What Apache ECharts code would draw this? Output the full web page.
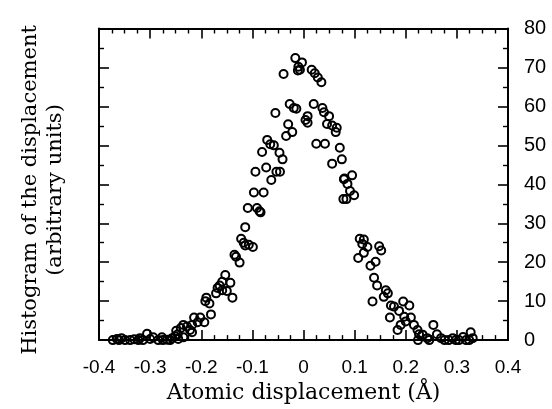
<!DOCTYPE html>
<html>
<head>
<meta charset="utf-8">
<script src="https://cdn.jsdelivr.net/npm/echarts@6/dist/echarts.min.js"></script>
<style>
html,body{margin:0;padding:0;background:#fff;}
#chart{width:552px;height:409px;}
</style>
</head>
<body>
<div id="chart"></div>
<script>
// Atomic displacement (Å)
var dispX = [
  -0.016,-0.003,-0.010,-0.011,-0.007,-0.039,0.016,0.022,0.028,0.035,
  -0.027,-0.019,-0.014,-0.055,0.020,0.037,0.040,0.050,0.008,0.004,0.008,
  -0.030,-0.022,-0.034,0.046,0.056,0.065,0.063,-0.071,-0.065,-0.058,
  -0.081,-0.047,-0.041,0.025,0.042,0.071,-0.073,-0.094,-0.053,-0.046,
  -0.063,0.075,0.056,0.095,0.080,0.086,-0.097,-0.078,
  -0.109,-0.091,-0.086,-0.084,-0.114,-0.122,-0.117,-0.114,-0.107,-0.099,
  -0.135,-0.132,-0.125,-0.153,-0.159,-0.143,-0.164,-0.168,-0.159,-0.150,
  -0.171,-0.139,-0.190,-0.192,-0.184,-0.181,-0.214,-0.202,-0.194,-0.207,
  -0.218,-0.235,-0.228,-0.240,-0.249,-0.246,-0.222,-0.218,-0.235,
  -0.365,-0.356,-0.349,-0.339,-0.323,-0.320,-0.306,-0.294,-0.284,-0.277,
  -0.267,-0.261,-0.257,-0.373,-0.361,-0.331,-0.314,-0.300,-0.275,-0.251,-0.245,
  0.079,0.091,0.099,0.078,0.084,0.110,0.118,0.115,0.125,0.118,0.107,
  0.148,0.152,0.141,0.131,0.138,0.144,0.161,0.165,0.157,0.135,0.171,
  0.177,0.195,0.207,0.187,0.169,0.197,0.210,0.200,0.190,0.184,0.216,
  0.223,0.226,0.224,0.233,0.242,0.246,0.254,
  0.261,0.269,0.276,0.284,0.292,0.298,0.304,0.312,0.318,0.327,0.331,0.324
];
// Histogram of the displacement (arbitrary units)
var histY = [
  72.4,71.3,70.2,69.2,69.4,68.3,69.4,68.5,67.4,66.2,
  60.6,59.6,59.4,58.3,60.6,59.6,58.5,57.5,57.5,56.5,55.8,
  55.4,53.4,52.4,55.5,55.1,54.5,53.4,51.4,50.3,50.0,
  48.3,48.1,46.4,50.4,50.4,49.4,44.3,43.2,43.2,43.2,
  41.1,46.4,45.3,42.3,41.5,40.1,37.9,37.9,
  33.9,33.9,33.1,32.8,29.0,26.0,25.0,24.3,24.5,23.9,
  21.9,21.4,19.9,16.7,15.0,14.7,14.0,13.4,12.8,12.6,
  12.0,10.9,10.9,10.0,9.4,6.6,5.8,5.8,4.6,4.6,
  3.9,3.9,3.5,3.1,2.4,1.5,2.6,2.0,0.7,
  0.3,0.5,0,0,0,0.5,1.6,0.7,0,0.7,
  0.1,0,0.5,0,0,0.2,0,0.3,0,1.0,0.3,
  41.3,38.3,37.2,36.2,36.2,26.0,25.8,24.7,23.9,22.4,21.1,
  24.1,23.0,20.1,19.1,16.0,14.0,12.8,12.0,11.1,9.9,8.9,
  8.6,9.9,8.9,7.5,5.8,6.0,5.8,4.8,3.9,2.6,3.9,
  2.6,1.5,0,1.4,0.5,0,3.9,
  1.5,0.5,0,0,0.5,0,0,0.8,0,2.0,0.5,0
];
var xTicks = ['-0.4','-0.3','-0.2','-0.1','0','0.1','0.2','0.3','0.4'];
var yTicks = ['0','10','20','30','40','50','60','70','80'];

var points = dispX.map(function (x, i) { return [x, histY[i]]; });

var chart = echarts.init(document.getElementById('chart'), null, {renderer: 'canvas'});
var axisLine = {show: true, onZero: false, lineStyle: {color: '#000', width: 2}};
var sansFont = '"Liberation Sans", Arial, sans-serif';
var serifFont = '"DejaVu Serif", serif';

function xAxisCfg(pos, showLabel) {
  return {
    type: 'value', position: pos, min: -0.4, max: 0.4, interval: 0.1,
    axisLine: axisLine,
    axisTick: {show: true, inside: true, length: 10, lineStyle: {color: '#000', width: 1.6}},
    minorTick: {show: true, splitNumber: 4, length: 5, lineStyle: {color: '#000', width: 1.4}},
    splitLine: {show: false}, minorSplitLine: {show: false},
    axisLabel: {
      show: showLabel, color: '#000', fontFamily: sansFont, fontSize: 19, margin: 18,
      formatter: function (v) { return xTicks[Math.round((v + 0.4) * 10)]; }
    }
  };
}
function yAxisCfg(pos, showLabel) {
  return {
    type: 'value', position: pos, min: 0, max: 80, interval: 10,
    axisLine: axisLine,
    axisTick: {show: true, inside: true, length: 10, lineStyle: {color: '#000', width: 1.6}},
    minorTick: {show: true, splitNumber: 2, length: 5, lineStyle: {color: '#000', width: 1.4}},
    splitLine: {show: false}, minorSplitLine: {show: false},
    axisLabel: {
      show: showLabel, color: '#000', fontFamily: sansFont, fontSize: 20, margin: 16,
      formatter: function (v) { return yTicks[Math.round(v / 10)]; }
    }
  };
}

var xBottom = xAxisCfg('bottom', true);
xBottom.name = 'Atomic displacement (\u00C5)';
xBottom.nameLocation = 'middle';
xBottom.nameGap = 39;
xBottom.nameTextStyle = {color: '#000', fontFamily: serifFont, fontSize: 22};

chart.setOption({
  animation: false,
  backgroundColor: '#fff',
  grid: {left: 99, right: 44, top: 28.5, bottom: 67, containLabel: false},
  xAxis: [xBottom, xAxisCfg('top', false)],
  yAxis: [yAxisCfg('right', true), yAxisCfg('left', false)],
  graphic: [{
    type: 'text', x: 43, y: 190, rotation: Math.PI / 2,
    style: {
      text: 'Histogram of the displacement\n(arbitrary units)',
      fill: '#000', font: '21px "DejaVu Serif", serif',
      textAlign: 'center', textVerticalAlign: 'middle', verticalAlign: 'middle',
      lineHeight: 25
    }
  }],
  series: [{
    type: 'scatter', xAxisIndex: 0, yAxisIndex: 0,
    data: points, symbol: 'circle', symbolSize: 8,
    itemStyle: {color: 'rgba(0,0,0,0)', borderColor: '#000', borderWidth: 2, opacity: 1},
    z: 5
  }]
});
</script>
</body>
</html>
